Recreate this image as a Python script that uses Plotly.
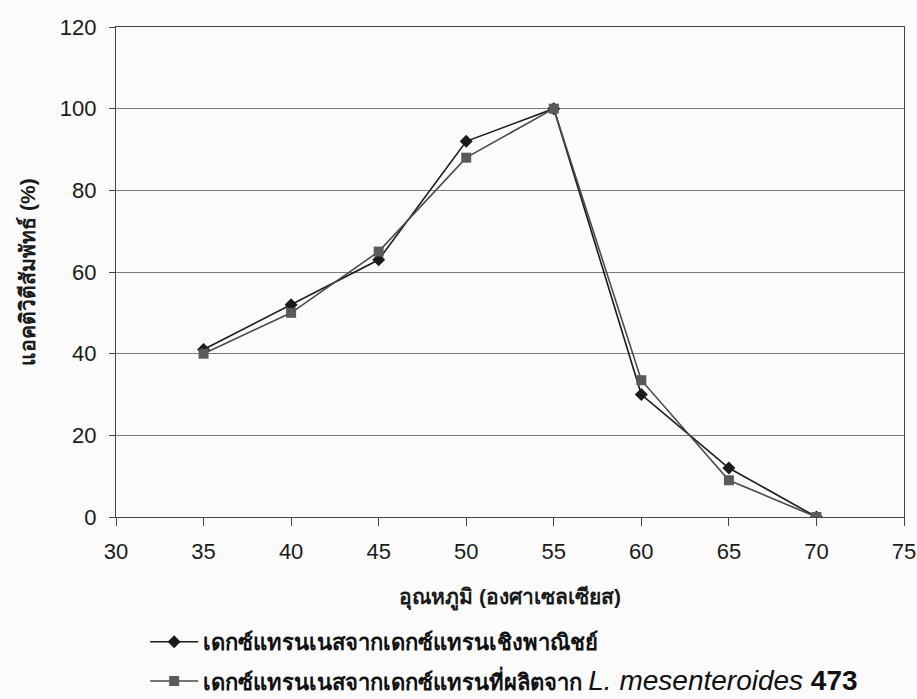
import plotly.graph_objects as go

# Temperature (°C) and relative activity (%) of the two dextranases
temperature = [35, 40, 45, 50, 55, 60, 65, 70]
commercial = [41, 52, 63, 92, 100, 30, 12, 0]
l_mesenteroides = [40, 50, 65, 88, 100, 33.5, 9, 0]

name_commercial = "<b>เดกซ์แทรนเนสจากเดกซ์แทรนเชิงพาณิชย์</b>"
name_lm = ("<b>เดกซ์แทรนเนสจากเดกซ์แทรนที่ผลิตจาก</b> "
           "<span style='font-size:28px'><i>L. mesenteroides</i> <b>473</b></span>")

x_ticks = [30, 35, 40, 45, 50, 55, 60, 65, 70, 75]
y_ticks = [0, 20, 40, 60, 80, 100, 120]

font_family = "Liberation Sans, Arial, Noto Sans, sans-serif"
axis_color = "#444444"

fig = go.Figure()
fig.add_trace(go.Scatter(
    x=temperature, y=commercial, name=name_commercial, mode="lines+markers",
    line=dict(color="#1a1a1a", width=1.6),
    marker=dict(symbol="diamond", size=10, color="#1a1a1a"),
    legend="legend",
))
fig.add_trace(go.Scatter(
    x=temperature, y=l_mesenteroides, name=name_lm, mode="lines+markers",
    line=dict(color="#4a4a4a", width=1.6),
    marker=dict(symbol="square", size=10, color="#5a5a5a"),
    legend="legend2",
))

legend_style = dict(
    xref="paper", yref="paper", x=0.037, xanchor="left", yanchor="middle",
    orientation="v", font=dict(size=22, color="#111111", family=font_family),
    bgcolor="rgba(0,0,0,0)", itemwidth=48, borderwidth=0,
)

fig.update_layout(
    width=917, height=699,
    margin=dict(l=116, r=13, t=27, b=182, autoexpand=False),
    paper_bgcolor="#fbfbfb", plot_bgcolor="#fbfbfb",
    font=dict(family=font_family, color="#1a1a1a", size=22),
    showlegend=True,
    legend=dict(legend_style, y=-0.255),
    legend2=dict(legend_style, y=-0.335),
)
fig.update_xaxes(
    range=[30, 75], tickvals=x_ticks, ticks="outside", ticklen=8,
    tickcolor=axis_color, showline=True, linecolor=axis_color, linewidth=1.3,
    mirror=True, showgrid=False, zeroline=False, automargin=False,
    tickfont=dict(size=22), ticklabelstandoff=6, ticklabeloverflow="allow",
    title=dict(text="<b>อุณหภูมิ (องศาเซลเซียส)</b>", font=dict(size=21), standoff=26),
)
fig.update_yaxes(
    range=[0, 120], tickvals=y_ticks, ticks="outside", ticklen=6,
    tickcolor=axis_color, showline=True, linecolor=axis_color, linewidth=1.3,
    mirror=True, showgrid=True, gridcolor="#7a7a7a", gridwidth=1,
    zeroline=False, automargin=False, tickfont=dict(size=22), ticklabelstandoff=8,
    ticklabeloverflow="allow",
    title=dict(text="<b>แอคติวิตีสัมพัทธ์ (%)</b>", font=dict(size=21), standoff=18),
)

fig.write_html("out.html")
